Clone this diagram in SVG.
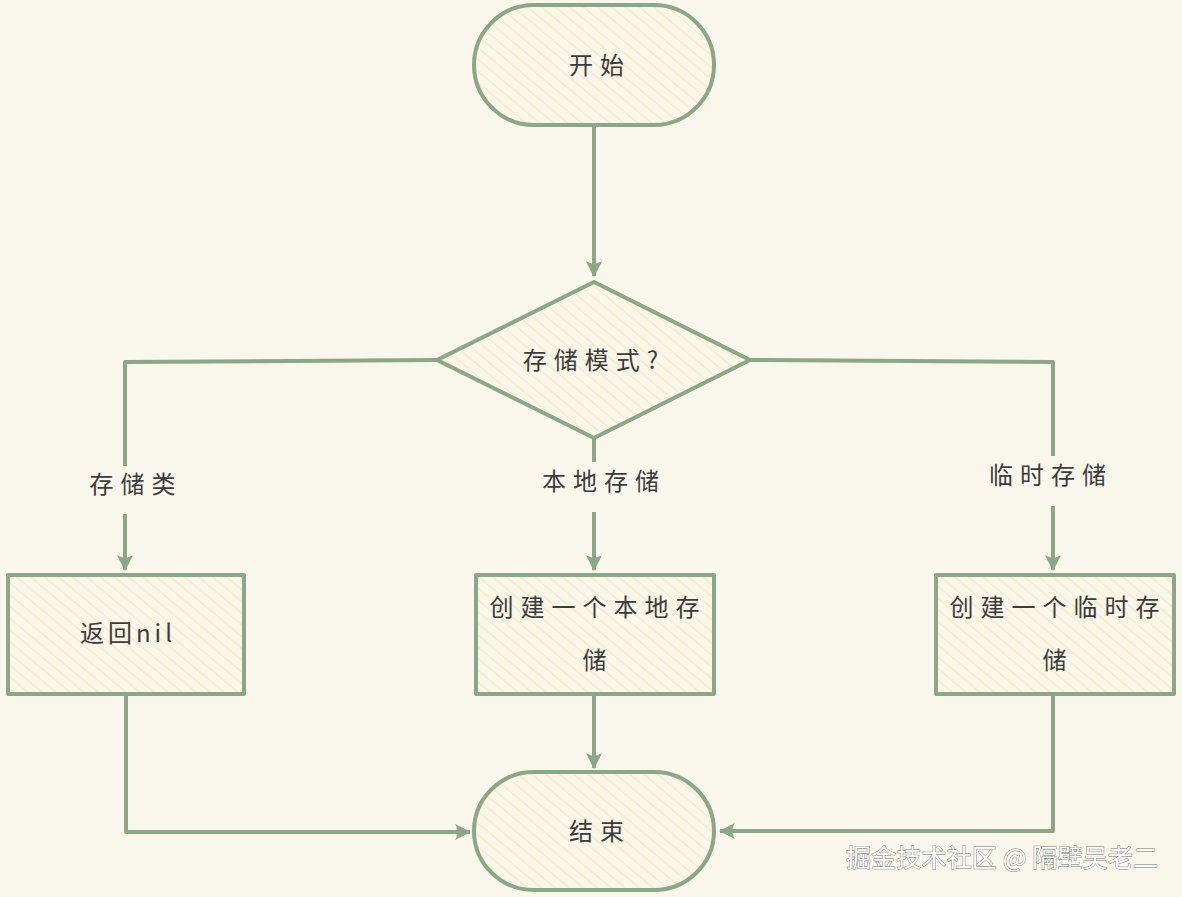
<svg xmlns="http://www.w3.org/2000/svg" width="1182" height="897" viewBox="0 0 1182 897">
<defs>
<pattern id="hatch" patternUnits="userSpaceOnUse" width="9" height="9" patternTransform="rotate(-50)">
<rect width="9" height="9" fill="#faf6e8"/>
<line x1="0" y1="0" x2="0" y2="9" stroke="#f2e9cf" stroke-width="2.5"/>
</pattern>
<marker id="ah" viewBox="0 0 14 14" refX="13" refY="7" markerWidth="16" markerHeight="16" orient="auto" markerUnits="userSpaceOnUse">
<path d="M0,0 L14,7 L0,14 L3,7 Z" fill="#8ba787"/>
</marker>
</defs>
<style>
.shape{fill:url(#hatch);stroke:#8ba787;stroke-width:4;stroke-linejoin:round}
.edge{fill:none;stroke:#8ba787;stroke-width:4;stroke-linejoin:round}
.t{font-family:"Noto Sans CJK SC","Noto Sans",sans-serif;font-size:24px;fill:#3c3c3c;text-anchor:middle;letter-spacing:7px}
.wm{font-family:"Noto Sans CJK SC",sans-serif;font-size:25px;fill:#ffffff;stroke:#6f6f6f;stroke-width:0.9px;paint-order:stroke}
</style>
<rect width="1182" height="897" fill="#f9f7ec"/>
<g id="edges">
<path class="edge" d="M594,125 L594,276" marker-end="url(#ah)"/>
<path class="edge" d="M437,360 L125,362 L125,466"/>
<path class="edge" d="M125,514 L125,570" marker-end="url(#ah)"/>
<path class="edge" d="M594,438 L594,462"/>
<path class="edge" d="M594,512 L594,570" marker-end="url(#ah)"/>
<path class="edge" d="M750,360 L1053,362 L1053,456"/>
<path class="edge" d="M1053,506 L1053,570" marker-end="url(#ah)"/>
<path class="edge" d="M126,694 L126,832 L470,832" marker-end="url(#ah)"/>
<path class="edge" d="M594,694 L594,768" marker-end="url(#ah)"/>
<path class="edge" d="M1053,694 L1053,831 L720,831" marker-end="url(#ah)"/>
<text class="t" x="136" y="493">存储类</text>
<text class="t" x="604" y="490">本地存储</text>
<text class="t" x="1051" y="484">临时存储</text>
</g>
<g id="start">
<rect class="shape" x="474" y="5" width="240" height="120" rx="60" ry="60"/>
<text class="t" x="600" y="74">开始</text>
</g>
<g id="decision">
<path class="shape" d="M594,282 L750,360 L594,438 L437,360 Z"/>
<text class="t" x="594" y="369">存储模式?</text>
</g>
<g id="nil">
<rect class="shape" x="8" y="575" width="236" height="119"/>
<text class="t" x="128" y="642" style="letter-spacing:4px">返回nil</text>
</g>
<g id="local">
<rect class="shape" x="476" y="575" width="238" height="119"/>
<text class="t" x="598" y="616">创建一个本地存</text>
<text class="t" x="598" y="669">储</text>
</g>
<g id="temp">
<rect class="shape" x="936" y="575" width="238" height="119"/>
<text class="t" x="1058" y="616">创建一个临时存</text>
<text class="t" x="1058" y="669">储</text>
</g>
<g id="end">
<rect class="shape" x="474" y="772" width="240" height="118" rx="60" ry="59"/>
<text class="t" x="600" y="840">结束</text>
</g>
<text class="wm" x="846" y="867" textLength="312">掘金技术社区 @ 隔壁吴老二</text>
</svg>
